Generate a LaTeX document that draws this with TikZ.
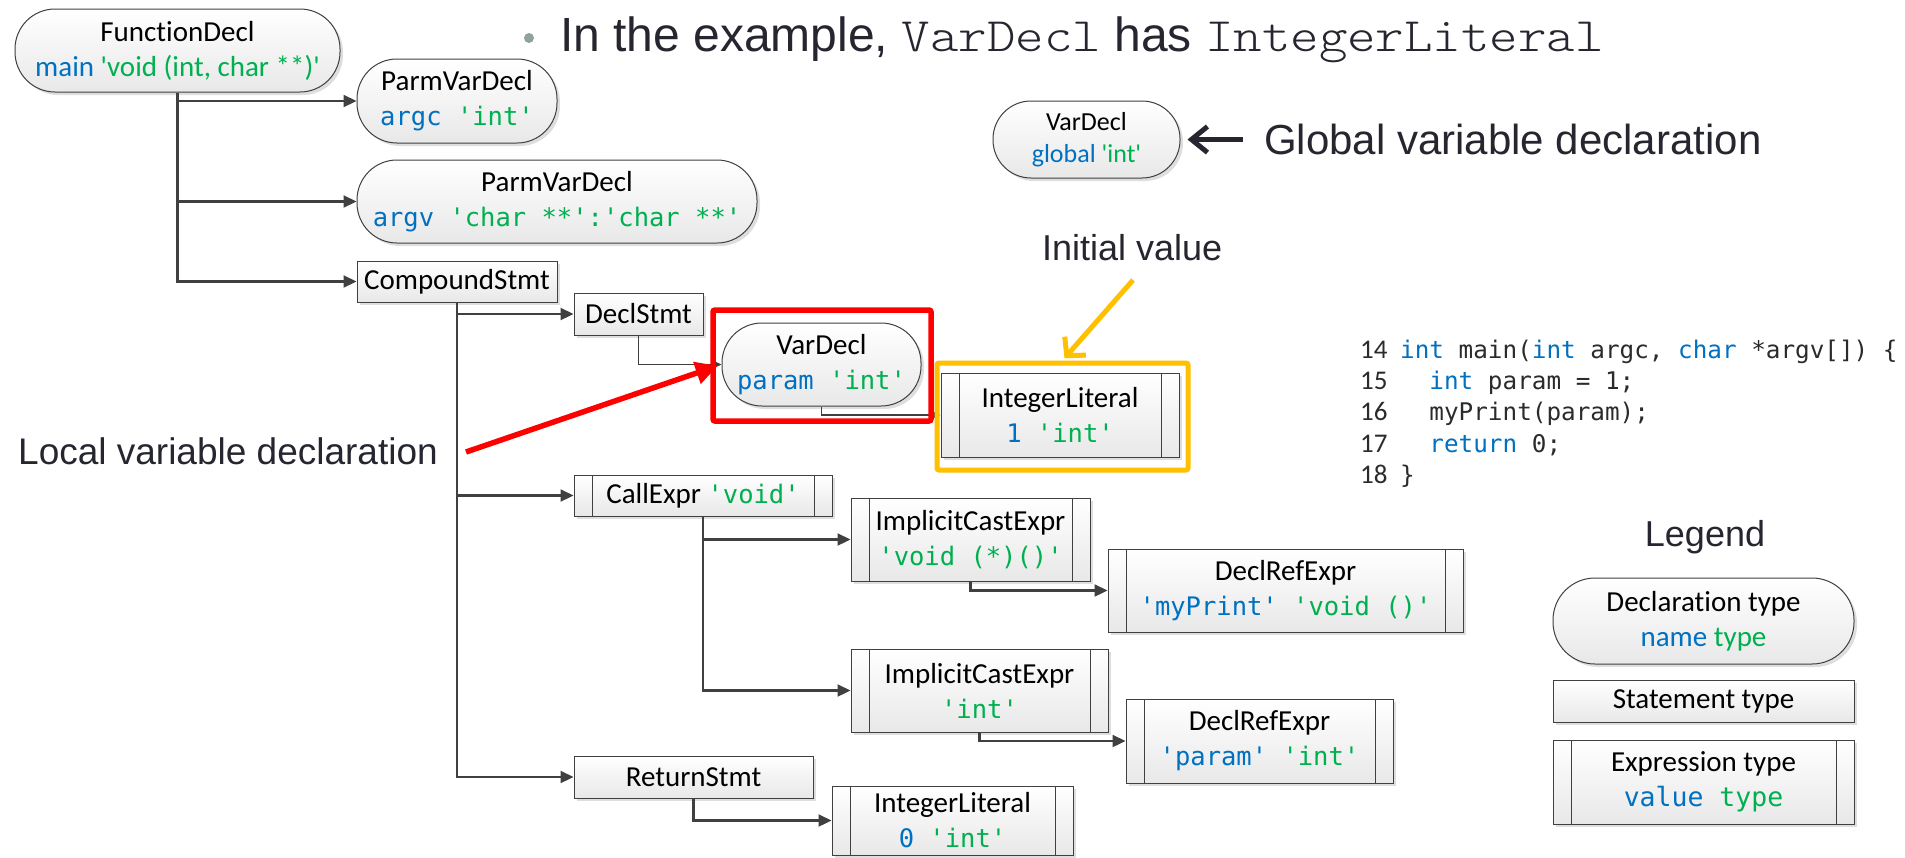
\documentclass[tikz,border=0pt]{standalone}
\usepackage{fontspec}
\setmainfont{Carlito}[Ligatures={TeXOff,CommonOff}]
\newfontfamily\carlito{Carlito}[Ligatures={TeXOff,CommonOff}]
\newfontfamily\codefont{DejaVu Sans Mono}[Ligatures=TeXOff]
\newfontfamily\slidefont{Liberation Sans}[Ligatures=TeXOff]
\newfontfamily\slidemono{lmmonolt10-regular.otf}[Ligatures=TeXOff,FakeStretch=1.13]
\usetikzlibrary{arrows.meta,shadows}

\definecolor{nblue}{HTML}{0070C0}
\definecolor{tgreen}{HTML}{00B050}
\definecolor{bordercol}{HTML}{404040}
\definecolor{conncol}{HTML}{404040}
\definecolor{slidetext}{HTML}{262630}
\definecolor{codetext}{HTML}{2B2B2B}
\definecolor{hlorange}{HTML}{FFC000}
\definecolor{hlred}{HTML}{FF0000}
\definecolor{bulletcol}{HTML}{8FA39A}

\newcommand\nm[1]{\textcolor{nblue}{#1}}
\newcommand\ty[1]{\textcolor{tgreen}{#1}}
\newcommand\cdf{\codefont\fontsize{25.5pt}{35pt}\selectfont}

\tikzset{
  astbox/.style={draw=bordercol, line width=1pt, top color=white, bottom color=black!9,
    drop shadow={shadow xshift=3pt,shadow yshift=-3pt,fill=black,opacity=0.13},
    inner sep=0pt, align=center, text=black,
    font=\carlito\fontsize{29pt}{35pt}\selectfont},
  astdecl/.style={astbox, rounded corners=#1},
  astdecl/.default=40pt,
  aststmt/.style={astbox},
  astexpr/.style={astbox, path picture={
    \draw[draw=bordercol,line width=1pt]
      ([xshift=18pt]path picture bounding box.north west) -- ([xshift=18pt]path picture bounding box.south west)
      ([xshift=-18pt]path picture bounding box.north east) -- ([xshift=-18pt]path picture bounding box.south east);}},
  conn/.style={draw=conncol, line width=2.2pt, -{Triangle[length=13pt,width=12pt]}},
  thinconn/.style={draw=conncol, line width=1.3pt, -{Triangle[length=8pt,width=7pt]}},
  slide/.style={anchor=base west, inner sep=0pt, text=slidetext},
  codeline/.style={anchor=base west, inner sep=0pt, text=codetext,
    font=\codefont\fontsize{24.3pt}{30pt}\selectfont},
  lineno/.style={anchor=base west, inner sep=0pt, text=codetext,
    font=\carlito\fontsize{27pt}{30pt}\selectfont},
}

\begin{document}
\begin{tikzpicture}[x=1pt,y=-1pt]
\fill[white] (0,0) rectangle (1905,857);
\useasboundingbox (0,0) rectangle (1905,857);

% title
\node[circle, fill=bulletcol, minimum size=10pt, inner sep=0pt] (bul) at (529,38) {};
\node[slide, font=\slidefont\fontsize{48pt}{58pt}\selectfont] (title) at (560,51)
  {In the example, {\slidemono VarDecl} has {\slidemono IntegerLiteral}};

% AST nodes
\node[astdecl, minimum width=325pt, minimum height=83pt] (fd) at (177.5,50.5)
  {FunctionDecl\\\nm{main} \ty{'void (int, char **)'}};
\node[astdecl, minimum width=200pt, minimum height=84pt] (p1) at (457,101)
  {ParmVarDecl\\{\cdf\nm{argc} \ty{'int'}}};
\node[astdecl, minimum width=400pt, minimum height=83pt] (p2) at (557,201.5)
  {ParmVarDecl\\{\cdf\nm{argv} \ty{'char **':'char **'}}};
\node[aststmt, minimum width=200pt, minimum height=41pt] (cs) at (457,281.5) {CompoundStmt};
\node[aststmt, minimum width=129pt, minimum height=42pt] (ds) at (638.5,314) {DeclStmt};
\node[astdecl, minimum width=199pt, minimum height=83pt] (vd) at (821.5,364.5)
  {VarDecl\\{\cdf\nm{param} \ty{'int'}}};
\node[astexpr, minimum width=238pt, minimum height=84pt] (il1) at (1060,415)
  {IntegerLiteral\\{\cdf\nm{1} \ty{'int'}}};
\node[astexpr, minimum width=258pt, minimum height=41pt] (ce) at (703,495.5)
  {CallExpr {\cdf\ty{'void'}}};
\node[astexpr, minimum width=239pt, minimum height=83pt] (ice1) at (970.5,539.5)
  {ImplicitCastExpr\\{\cdf\ty{'void (*)()'}}};
\node[astexpr, minimum width=355pt, minimum height=83pt] (dre1) at (1285.5,590.5)
  {DeclRefExpr\\{\cdf\nm{'myPrint'} \ty{'void ()'}}};
\node[astexpr, minimum width=257pt, minimum height=83pt] (ice2) at (979.5,690.5)
  {ImplicitCastExpr\\{\cdf\ty{'int'}}};
\node[astexpr, minimum width=267pt, minimum height=84pt] (dre2) at (1259.5,741)
  {DeclRefExpr\\{\cdf\nm{'param'} \ty{'int'}}};
\node[aststmt, minimum width=239pt, minimum height=42pt] (rs) at (693.5,777) {ReturnStmt};
\node[astexpr, minimum width=241pt, minimum height=69pt] (il2) at (952.5,820.5)
  {IntegerLiteral\\{\cdf\nm{0} \ty{'int'}}};

% global var decl
\node[astdecl=38pt, minimum width=187pt, minimum height=77pt,
      font=\carlito\fontsize{26pt}{32pt}\selectfont] (gvd) at (1086.5,139.5)
  {VarDecl\\\nm{global} \ty{'int'}};

% connectors
\draw[conn] (fd.south) |- (p1.west);
\draw[conn] (fd.south) |- (p2.west);
\draw[conn] (fd.south) |- (cs.west);
\draw[conn] (cs.south) |- (ds.west);
\draw[conn] (cs.south) |- (ce.west);
\draw[conn] (cs.south) |- (rs.west);
\draw[thinconn] (ds.south) |- (vd.west);
\draw[thinconn] (vd.south) |- (il1.west);
\draw[conn] (ce.south) |- (ice1.west);
\draw[conn] (ce.south) |- (ice2.west);
\draw[conn] (ice1.south) |- (dre1.west);
\draw[conn] (ice2.south) |- (dre2.west);
\draw[conn] (rs.south) |- (il2.west);

% highlights
\node[draw=hlred, line width=5.5pt, rounded corners=2pt, minimum width=218pt, minimum height=111pt, inner sep=0pt] (redbox) at (822,365.5) {};
\node[draw=hlorange, line width=5pt, rounded corners=2pt, minimum width=251pt, minimum height=107pt, inner sep=0pt] (obox) at (1062.5,416.5) {};

% annotations
\node[slide, font=\slidefont\fontsize{37pt}{44pt}\selectfont] (loc) at (18,464) {Local variable declaration};
\coordinate (redstart) at (466,452);
\draw[line width=5.5pt, hlred, -{Triangle[length=22pt,width=22pt]}, shorten >=4pt] (redstart) -- (vd.west);

\node[slide, font=\slidefont\fontsize{36pt}{42pt}\selectfont] (iv) at (1042,260) {Initial value};
\coordinate (ostart) at (1133,280);
\draw[line width=5pt, hlorange, -{Straight Barb[length=13pt,width=28pt]}, shorten >=3pt] (ostart) -- (obox.north);

\node[slide, font=\slidefont\fontsize{42pt}{50pt}\selectfont] (gtxt) at (1264,154) {Global variable declaration};
\coordinate (gstart) at (1243,139.5);
\draw[line width=5pt, slidetext, -{Straight Barb[length=16pt,width=26pt]}, shorten >=7pt] (gstart) -- (gvd.east);

% code listing
\node[lineno] (n14) at (1360,358) {14};
\node[lineno] (n15) at (1360,389.4) {15};
\node[lineno] (n16) at (1360,420.8) {16};
\node[lineno] (n17) at (1360,452.2) {17};
\node[lineno] (n18) at (1360,483.6) {18};
\node[codeline] (c14) at (1400,358) {\nm{int} main(\nm{int} argc, \nm{char} *argv[]) \{};
\node[codeline] (c15) at (1400,389.4) {\phantom{xx}\nm{int} param = 1;};
\node[codeline] (c16) at (1400,420.8) {\phantom{xx}myPrint(param);};
\node[codeline] (c17) at (1400,452.2) {\phantom{xx}\nm{return} 0;};
\node[codeline] (c18) at (1400,483.6) {\}};

% legend
\node[anchor=base, inner sep=0pt, text=slidetext, font=\slidefont\fontsize{36pt}{42pt}\selectfont] (lgtitle) at (1705,546) {Legend};
\node[astdecl=42pt, minimum width=301pt, minimum height=86pt] (lgdecl) at (1703.5,621)
  {Declaration type\\\nm{name} \ty{type}};
\node[aststmt, minimum width=301pt, minimum height=42pt] (lgstmt) at (1703.5,701) {Statement type};
\node[astexpr, minimum width=301pt, minimum height=84pt] (lgexpr) at (1703.5,782)
  {Expression type\\{\codefont\fontsize{26.5pt}{35pt}\selectfont\nm{value} \ty{type}}};
\end{tikzpicture}
\end{document}
